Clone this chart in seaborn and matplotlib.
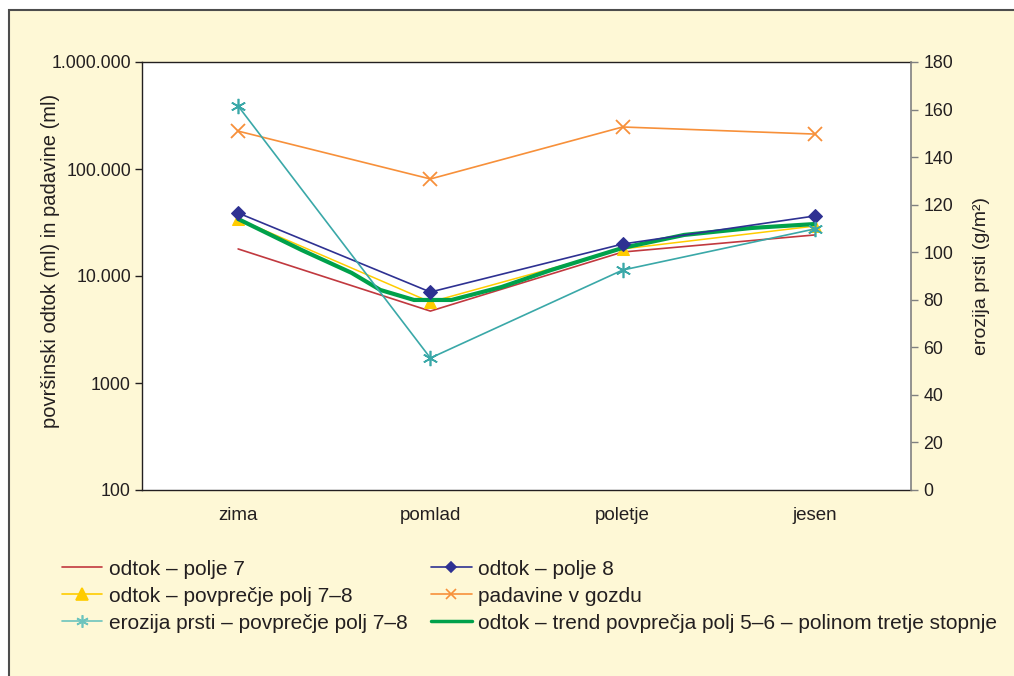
import matplotlib
matplotlib.use("Agg")
import matplotlib.pyplot as plt
import seaborn as sns
import numpy as np
import pandas as pd
from matplotlib.patches import Rectangle
from matplotlib.lines import Line2D

# ---- data ----
seasons = ["zima", "pomlad", "poletje", "jesen"]
odtok_polje7 = [17900, 4700, 16750, 24200]
odtok_polje8 = [38800, 7080, 19900, 36400]
odtok_povp78 = [34100, 5710, 17900, 29300]
padavine = [226000, 80700, 247000, 212000]
erozija = [161.5, 55.5, 92.5, 109.8]
# trend curve (positions in season units)
trend_pos = [0.0, 0.33, 0.59, 0.74, 0.915, 1.11, 1.37, 1.63, 2.0, 2.32, 2.67, 3.0]
trend_val = [34100, 17500, 10700, 7400, 5970, 5970, 7890, 11400, 18300, 24200, 28100, 30600]

left_ticks = [100, 1000, 10000, 100000, 1000000]
left_labels = ["100", "1000", "10.000", "100.000", "1.000.000"]
right_ticks = [0, 20, 40, 60, 80, 100, 120, 140, 160, 180]

labels = {
    "p7": "odtok – polje 7",
    "p8": "odtok – polje 8",
    "avg": "odtok – povprečje polj 7–8",
    "pad": "padavine v gozdu",
    "ero": "erozija prsti – povprečje polj 7–8",
    "trend": "odtok – trend povprečja polj 5–6 – polinom tretje stopnje",
}

sns.set_theme(style="white")
plt.rcParams["font.family"] = ["Liberation Sans", "DejaVu Sans"]

TXT = "#231f20"
BG = "#fef8d6"
C_RED = "#c1393f"
C_NAVY = "#2e3192"
C_YEL = "#ffcc00"
C_TEAL = "#3aa8a8"
C_ORG = "#f7903a"
C_GRN = "#00a14b"

fig = plt.figure(figsize=(10.14, 6.76), dpi=100)
fig.patch.set_facecolor("white")
fig.patches.append(Rectangle((9 / 1014, -0.1), 1.2, 1 - 10 / 676 + 0.1,
                             transform=fig.transFigure, facecolor=BG,
                             edgecolor="#4d4d4d", linewidth=1.5, zorder=-10))

ax = fig.add_axes([142 / 1014, 1 - 490 / 676, (911 - 142) / 1014, (490 - 62) / 676])
ax.set_facecolor("white")
ax2 = ax.twinx()

xs = np.arange(len(seasons))

sns.lineplot(x=xs, y=odtok_polje7, ax=ax, color=C_RED, linewidth=1.2, label=labels["p7"], legend=False)
sns.lineplot(x=xs, y=padavine, ax=ax, color=C_ORG, linewidth=1.2, marker="x", markersize=10,
             markeredgewidth=1.3, markeredgecolor=C_ORG, label=labels["pad"], legend=False)
sns.lineplot(x=xs, y=odtok_povp78, ax=ax, color=C_YEL, linewidth=1.1, marker="^", markersize=9,
             markeredgecolor=C_YEL, label=labels["avg"], legend=False)
sns.lineplot(x=trend_pos, y=trend_val, ax=ax, color=C_GRN, linewidth=3, label=labels["trend"], legend=False)
sns.lineplot(x=xs, y=odtok_polje8, ax=ax, color=C_NAVY, linewidth=1.2, marker="D", markersize=7,
             markeredgecolor=C_NAVY, label=labels["p8"], legend=False)
sns.lineplot(x=xs, y=erozija, ax=ax2, color=C_TEAL, linewidth=1.2, marker=(6, 2, 0), markersize=11,
             markeredgewidth=1.2, markeredgecolor=C_TEAL, label=labels["ero"], legend=False)

ax.set_yscale("log")
ax.set_ylim(100, 1000000)
ax.set_xlim(-0.5, 3.5)
ax.set_yticks(left_ticks)
ax.set_yticklabels(left_labels)
ax.minorticks_off()
ax.set_xticks(xs)
ax.set_xticklabels(seasons)
ax2.set_ylim(0, 180)
ax2.set_yticks(right_ticks)

for a in (ax, ax2):
    a.tick_params(axis="both", which="major", labelsize=12.8, labelcolor=TXT, length=5,
                  width=1, color=TXT, direction="out", pad=3)
    a.grid(False)
ax2.tick_params(axis="y", color="#808080", pad=4)
ax.tick_params(axis="x", pad=7, labelsize=13.5)

for s in ["left", "bottom", "top"]:
    ax.spines[s].set_color(TXT)
    ax.spines[s].set_linewidth(1)
ax.spines["right"].set_visible(False)
ax2.spines["right"].set_color("#808080")
ax2.spines["right"].set_linewidth(1.2)
for s in ["left", "bottom", "top"]:
    ax2.spines[s].set_visible(False)

ax.set_ylabel("površinski odtok (ml) in padavine (ml)", fontsize=14.5, color=TXT, labelpad=3)
ax.yaxis.set_label_coords(-0.106, 0.535)
ax2.set_ylabel("erozija prsti (g/m²)", fontsize=14, color=TXT, labelpad=14)
ax.set_xlabel("")

# legend
def h(color, lw=1.2, marker=None, ms=7, mew=1.2):
    return Line2D([], [], color=color, linewidth=lw, marker=marker, markersize=ms,
                  markeredgecolor=color, markerfacecolor=color, markeredgewidth=mew)

handles = [
    h(C_RED), h(C_YEL, marker="^", ms=8), h("#6cc4bd", marker=(6, 2, 0), ms=9),
    h(C_NAVY, marker="D", ms=5), h(C_ORG, marker="x", ms=7), h(C_GRN, lw=2.5),
]
leg_labels = [labels["p7"], labels["avg"], labels["ero"], labels["p8"], labels["pad"], labels["trend"]]
fig.legend(handles, leg_labels, loc="upper left", bbox_to_anchor=(43 / 1014, 1 - 541 / 676),
           ncol=2, frameon=False, fontsize=15, handlelength=1.95, handletextpad=0.33,
           columnspacing=1.1, labelspacing=0.38, labelcolor=TXT)

fig.savefig("out.png", dpi=100, facecolor=fig.get_facecolor())
